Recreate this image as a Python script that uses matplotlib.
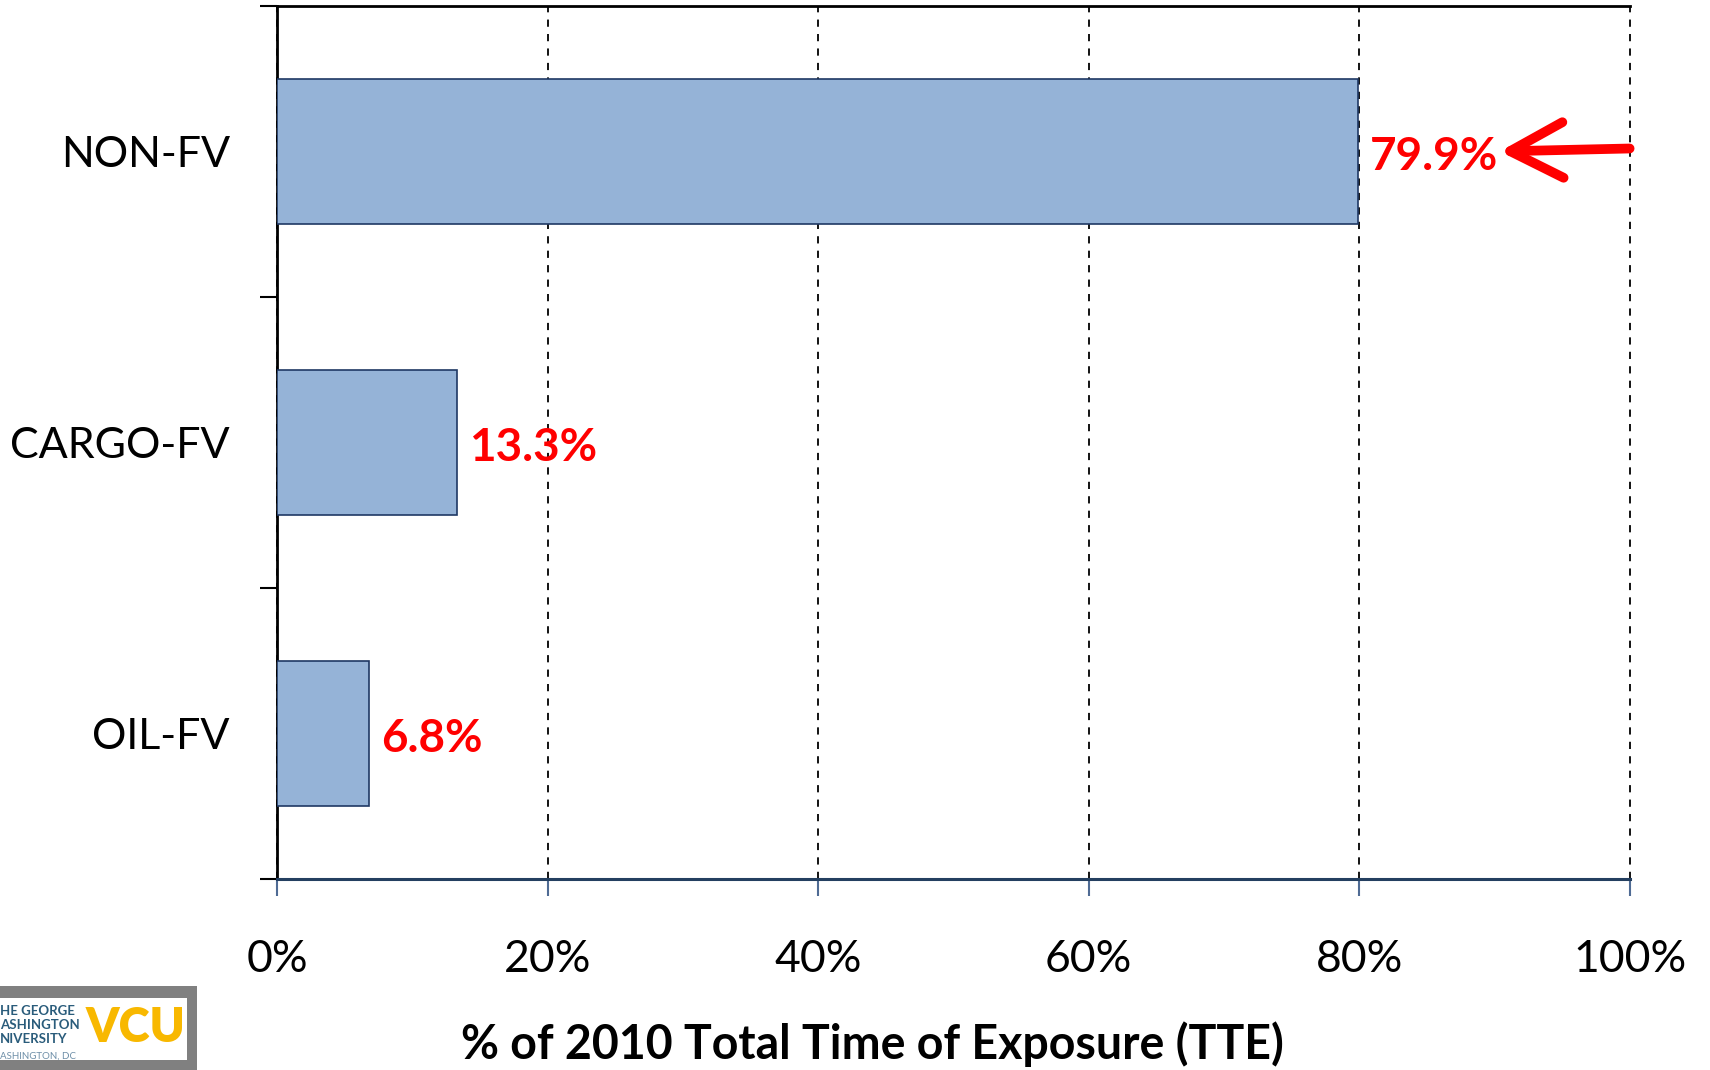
import matplotlib.pyplot as plt
from matplotlib.patches import Rectangle

plt.rcParams['font.family'] = ['Lato', 'DejaVu Sans']

categories = ["NON-FV", "CARGO-FV", "OIL-FV"]
shares = [79.9, 13.3, 6.8]
value_labels = ["79.9%", "13.3%", "6.8%"]
x_ticks = [0, 20, 40, 60, 80, 100]
x_tick_labels = ["0%", "20%", "40%", "60%", "80%", "100%"]

fig = plt.figure(figsize=(17.1, 10.7), dpi=100)
ax = fig.add_axes([0.162, 0.1785, 0.791, 0.816])

ypos = list(range(len(categories)))
ax.barh(ypos, shares, height=0.5, color="#95B3D7", edgecolor="#1F3864", linewidth=1.2, zorder=3)

for y, v, lab in zip(ypos, shares, value_labels):
    ax.text(v + 0.9, y + 0.02, lab, color="red", fontsize=33, fontweight="bold",
            va="center", ha="left", zorder=4)

# red arrow pointing at the biggest share
ax.annotate("", xy=(90.4, 0.0), xytext=(100.0, -0.01),
            arrowprops=dict(arrowstyle="->,head_length=0.95,head_width=0.5",
                            mutation_scale=40,
                            color="red", lw=7, capstyle="round", joinstyle="round",
                            shrinkA=0, shrinkB=0),
            zorder=5, annotation_clip=False)

ax.set_xlim(0, 100)
ax.set_ylim(2.5, -0.5)
ax.set_xticks(x_ticks)
ax.set_xticklabels(x_tick_labels, fontsize=32)
ax.set_yticks(ypos)
ax.set_yticklabels(categories, fontsize=31)
ax.set_yticks([-0.5, 0.5, 1.5, 2.5], minor=True)

ax.tick_params(axis="y", which="major", length=0, pad=34)
ax.tick_params(axis="y", which="minor", length=12, width=1.5, direction="out", color="black")
ax.tick_params(axis="x", which="major", length=12, width=1.5, direction="out",
               color="#4F6B94", pad=31)

ax.grid(axis="x", color="black", linestyle=(0, (4, 4)), linewidth=1.3, zorder=1)
for gl in ax.get_xgridlines():
    gl.set_clip_on(False)

ax.spines["right"].set_visible(False)
ax.spines["left"].set_color("black")
ax.spines["left"].set_linewidth(2)
ax.spines["top"].set_color("black")
ax.spines["top"].set_linewidth(2)
ax.spines["bottom"].set_color("#243F60")
ax.spines["bottom"].set_linewidth(2.2)

fig.text(872 / 1710, 1 - 1044 / 1070, "% of 2010 Total Time of Exposure (TTE)",
         fontsize=33.5, fontweight="bold", ha="center", va="center")

# logo box, bottom left
fig.patches.append(Rectangle((0, 0), 197 / 1710, 84 / 1070, transform=fig.transFigure,
                             facecolor="#808080", edgecolor="none", zorder=1))
fig.patches.append(Rectangle((0, 10 / 1070), 187 / 1710, 62 / 1070, transform=fig.transFigure,
                             facecolor="white", edgecolor="none", zorder=2))
logo_lines = ["HE GEORGE", "ASHINGTON", "NIVERSITY"]
for i, line in enumerate(logo_lines):
    fig.text(0.0, (1060 - 1006 - 14 * i) / 1070 + 0.005, line, fontsize=9.5, fontweight="bold",
             color="#2A5C7B", ha="left", va="center", zorder=3)
fig.text(0.0, 14 / 1070, "ASHINGTON, DC", fontsize=7, color="#6E8FA8", ha="left", va="center", zorder=3)
fig.text(86 / 1710, 42 / 1070, "VCU", fontsize=34, fontweight="heavy", color="#F8B800",
         ha="left", va="center", zorder=3)

fig.savefig("out.png", dpi=100)
